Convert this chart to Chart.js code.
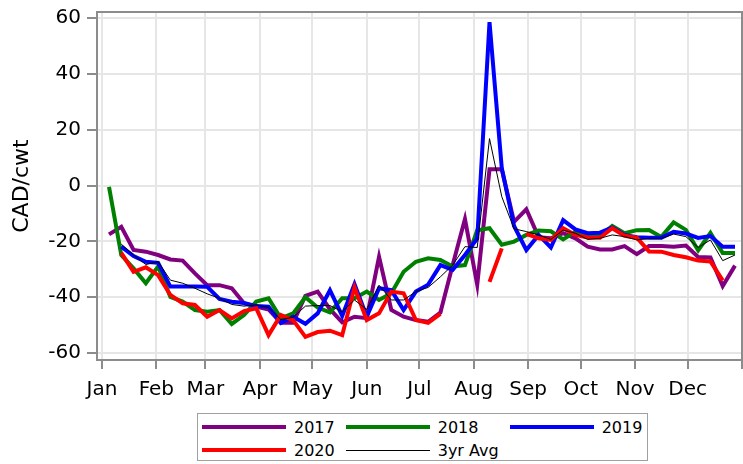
<!DOCTYPE html>
<html><head><meta charset="utf-8">
<script src="https://cdn.jsdelivr.net/npm/chart.js@4"></script>
<style>
html,body{margin:0;padding:0;background:#fff;}
#wrap{position:relative;width:743px;height:464px;}
#legend{position:absolute;left:197px;top:413px;border:1px solid #a0a0a0;display:grid;grid-template-columns:auto auto auto;column-gap:11px;row-gap:3px;padding:3px 5px 0 4px;font-family:'DejaVu Sans';font-size:16px;color:#000;background:#fff;}
.item{display:flex;align-items:center;height:20px;white-space:nowrap;}
.sw{display:inline-block;width:84px;margin-right:8px;}
</style></head>
<body><div id="wrap"><canvas id="c" width="743" height="464"></canvas><div id="legend"></div></div>
<script>
// week positions (day of year)
const weekDay = [4,11,18,25,32,39,46,53,60,67,74,81,88,95,102,109,116,123,130,137,144,151,158,165,172,179,186,193,200,207,214,221,228,235,242,249,256,263,270,277,284,291,298,305,312,319,326,333,340,347,354,361];
const monthDays = [0,31,59,90,120,151,181,212,243,273,304,334,365];
const monthLabels = ['Jan','Feb','Mar','Apr','May','Jun','Jul','Aug','Sep','Oct','Nov','Dec',''];
const yTicks = [-60,-40,-20,0,20,40,60];
const seriesNames = ['2017','2018','2019','2020','3yr Avg'];

const s2017 = [-17.5,-14.8,-23.1,-23.7,-24.9,-26.5,-26.9,-31.5,-35.7,-35.7,-36.8,-42.2,-43.4,-44.4,-49.2,-49.2,-39.5,-38,-44.3,-49,-47,-47.5,-25.5,-44.6,-47,-48.2,-48.8,-45.5,-28.5,-12,-35.5,5.8,5.8,-13,-8.5,-18.5,-18.9,-17.1,-18.9,-21.9,-22.9,-22.9,-21.7,-24.6,-21.7,-21.7,-21.9,-21.5,-25.6,-25.8,-36,-28.7];
const s2018 = [-0.5,-24.9,-29.7,-35,-29,-39.9,-41.6,-44.6,-45.2,-44.6,-49.6,-46.4,-41.6,-40.4,-47.6,-45.8,-40,-43.7,-45.4,-40.4,-40.4,-38,-41,-38.6,-30.9,-27.3,-26.1,-26.7,-29,-28.5,-16,-15.3,-21.2,-20.1,-17.7,-16.1,-16.4,-19.3,-16.5,-18.3,-18.1,-14.5,-17.1,-16,-15.9,-18.4,-13.2,-15.9,-23.2,-17,-24.2,-24.2];
const s2019 = [null,-21.9,-25.3,-27.3,-27.7,-36.2,-36.2,-36.2,-36.3,-40.6,-41.6,-42.1,-43.2,-43.4,-49.2,-47,-49.5,-45.8,-37.5,-46.7,-35.3,-47,-36.8,-37.5,-44.6,-38,-35.5,-28.5,-30.2,-24.9,-19,58.5,6.2,-14.5,-23.1,-17.7,-22.2,-12.4,-15.7,-17.1,-16.9,-15,-17.7,-18.5,-18.7,-18.7,-16.6,-17.2,-18.8,-18.1,-21.9,-21.9];
const s2020 = [null,-24.1,-30.9,-29.3,-32.1,-39.2,-42.2,-42.8,-47,-44.6,-47.6,-45,-44,-53.6,-46.4,-48.2,-54.2,-52.5,-52,-53.6,-36.5,-48.2,-45.8,-38,-38.6,-48.2,-49.2,-46,null,null,null,-34.5,-22.5,null,-17.3,-18.9,-19.5,-15.3,-17.7,-18.6,-18.7,-15.3,-18,-18.7,-23.6,-23.7,-24.9,-25.7,-26.9,-27.2,-34,null];
const sAvg = [null,-21,-24.9,-28.3,-27.3,-33.9,-35,-36.8,-38.8,-40.4,-42.6,-43.2,-42.8,-43.7,-48,-47.2,-43.2,-43,-43,-45.2,-41,-44.4,-35.7,-41,-41,-38,-36.5,-32.7,-28.5,-21.9,-22.2,16.8,-4,-15.5,-16.5,-17.7,-19.3,-16,-17.1,-19.3,-18.9,-17.7,-18.3,-19.5,-18.9,-18.9,-17.4,-18.3,-22.2,-19.5,-26.9,-24.9];

const allSeries = [s2017,s2018,s2019,s2020,sAvg];
const colors = ['#800080','#008000','#0000ff','#ff0000','#000000'];
const widths = [4,4,4,4,1];

const datasets = allSeries.map((s,k)=>({
  label: seriesNames[k],
  data: s.map((v,i)=>({x:weekDay[i], y:v})),
  borderColor: colors[k],
  backgroundColor: colors[k],
  borderWidth: widths[k],
  pointRadius: 0,
  pointHoverRadius: 0,
  spanGaps: false,
  tension: 0,
  order: 5-k
}));

const AXIS = '#8c8c8c';
const framePlugin = {
  id:'frame',
  beforeDatasetsDraw(chart){
    const a = chart.chartArea, ctx = chart.ctx;
    ctx.save();
    ctx.strokeStyle = AXIS; ctx.lineWidth = 2;
    ctx.strokeRect(a.left, a.top, a.right-a.left, a.bottom-a.top);
    ctx.restore();
  }
};
function zeroPad(s){ s.paddingLeft = 0; s.paddingRight = 0; s.paddingTop = 0; s.paddingBottom = 0; }

new Chart(document.getElementById('c'), {
  type:'line',
  data:{datasets},
  options:{
    responsive:false, animation:false, devicePixelRatio:1,
    layout:{autoPadding:false, padding:{top:12,right:1,left:0,bottom:0}},
    plugins:{legend:{display:false}, tooltip:{enabled:false}},
    scales:{
      x:{
        type:'linear', min:-2.85, max:365,
        afterBuildTicks(s){ s.ticks = monthDays.map(v=>({value:v})); },
        afterFit(s){ s.height = 104; zeroPad(s); },
        ticks:{autoSkip:false, maxRotation:0, padding:9, color:'#000',
          font:{family:'DejaVu Sans', size:20},
          callback:(v,i)=>monthLabels[i]},
        grid:{color:'#e6e6e6', lineWidth:2, tickColor:AXIS, tickLength:9, tickWidth:2},
        border:{display:false}
      },
      y:{
        type:'linear', min:-62.5, max:62.15,
        afterBuildTicks(s){ s.ticks = yTicks.map(v=>({value:v})); },
        afterFit(s){ s.width = 97; zeroPad(s); },
        ticks:{padding:6, color:'#000', font:{family:'DejaVu Sans', size:20}},
        grid:{color:'#e6e6e6', lineWidth:2, tickColor:AXIS, tickLength:10, tickWidth:2},
        border:{display:false},
        title:{display:true, text:'CAD/cwt', color:'#000', font:{family:'DejaVu Sans', size:22}, padding:{top:9,bottom:0}}
      }
    }
  },
  plugins:[framePlugin]
});

// HTML legend built from datasets
const leg = document.getElementById('legend');
datasets.forEach(d=>{
  const it = document.createElement('div'); it.className='item';
  const sw = document.createElement('span'); sw.className='sw';
  sw.style.height = d.borderWidth+'px'; sw.style.background = d.borderColor;
  const tx = document.createElement('span'); tx.textContent = d.label;
  it.appendChild(sw); it.appendChild(tx); leg.appendChild(it);
});
</script>
</body></html>
